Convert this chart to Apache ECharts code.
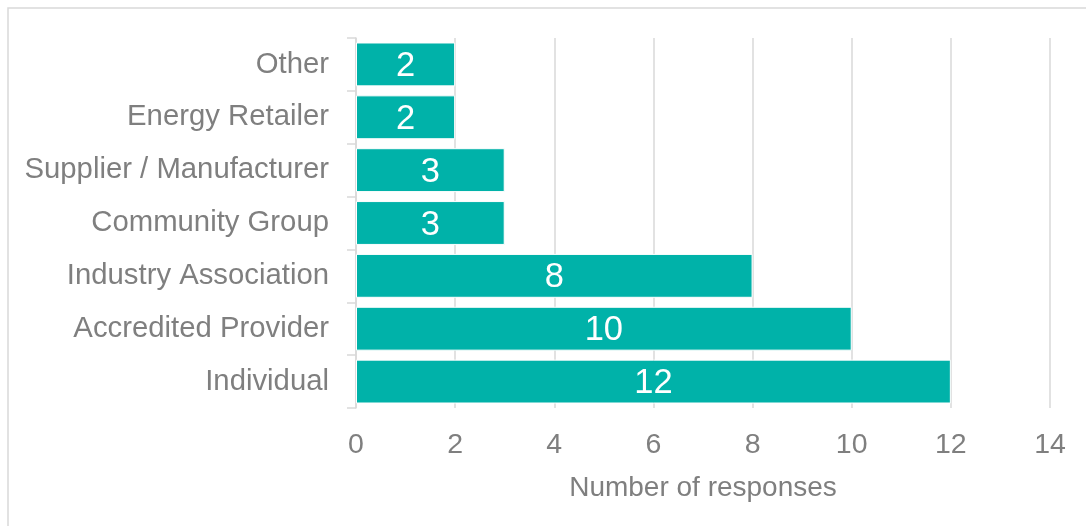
<!DOCTYPE html>
<html>
<head>
<meta charset="utf-8">
<style>html,body{margin:0;padding:0;background:#fff}#c{width:1086px;height:526px}</style>
<script src="https://cdn.jsdelivr.net/npm/echarts@6/dist/echarts.min.js"></script>
</head>
<body>
<div id="c"></div>
<script>
const categories = ['Other', 'Energy Retailer', 'Supplier / Manufacturer', 'Community Group', 'Industry Association', 'Accredited Provider', 'Individual'];
const responses = [2, 2, 3, 3, 8, 10, 12];
const xAxisName = 'Number of responses';

const chart = echarts.init(document.getElementById('c'));
const font = '"Liberation Sans", Arial, sans-serif';
chart.setOption({
  animation: false,
  graphic: [{
    type: 'rect', silent: true, z: -10,
    shape: { x: 8, y: 8, width: 1200, height: 700 },
    style: { fill: 'none', stroke: '#D9D9D9', lineWidth: 1.5 }
  }],
  grid: { left: 356, right: 36, top: 38, bottom: 118, containLabel: false },
  xAxis: {
    type: 'value', min: 0, max: 14, interval: 2,
    name: xAxisName, nameLocation: 'middle', nameGap: 66,
    nameTextStyle: { color: '#7F7F7F', fontSize: 28, fontFamily: font },
    axisLine: { show: false }, axisTick: { show: false },
    axisLabel: { color: '#7F7F7F', fontSize: 28.5, fontFamily: font, margin: 23 },
    splitLine: { show: true, lineStyle: { color: '#D9D9D9', width: 1.5 } }
  },
  yAxis: {
    type: 'category', data: categories, inverse: true,
    axisLine: { show: true, lineStyle: { color: '#D9D9D9', width: 1.5 } },
    axisTick: { show: true, length: 9, lineStyle: { color: '#D9D9D9', width: 1.5 } },
    axisLabel: { color: '#7F7F7F', fontSize: 29.3, fontFamily: font, margin: 27, padding: [4, 0, 0, 0] }
  },
  series: [{
    type: 'bar', data: responses, barCategoryGap: '17%',
    itemStyle: { color: '#00B2A9', borderColor: '#ffffff', borderWidth: 1 },
    label: { show: true, position: 'inside', color: '#ffffff', fontSize: 34.5, fontFamily: font, offset: [0, 2] }
  }]
});
</script>
</body>
</html>
